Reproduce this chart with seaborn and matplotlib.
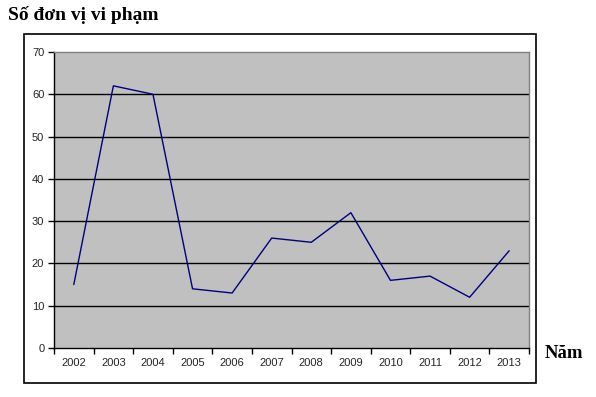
import matplotlib
matplotlib.use("Agg")
import matplotlib.pyplot as plt
import seaborn as sns
import pandas as pd
import numpy as np
from matplotlib.patches import Rectangle

years = ["2002", "2003", "2004", "2005", "2006", "2007", "2008", "2009", "2010", "2011", "2012", "2013"]
counts = [15, 62, 60, 14, 13, 26, 25, 32, 16, 17, 12, 23]
y_ticks = [0, 10, 20, 30, 40, 50, 60, 70]
title_text = "Số đơn vị vi phạm"
xlabel_text = "Năm"

df = pd.DataFrame({"year": years, "count": counts})

sns.set_style("white")
plt.rcParams["font.family"] = ["Liberation Sans", "DejaVu Sans"]

W, H = 596, 397
fig = plt.figure(figsize=(W / 100, H / 100), dpi=100)
ax = fig.add_axes([54 / W, 1 - 348 / H, (529 - 54) / W, (348 - 52) / H])
ax.set_facecolor("#c0c0c0")

sns.lineplot(data=df, x="year", y="count", ax=ax, color="#000080", linewidth=1.0, sort=False)

ax.set_xlim(-0.5, len(years) - 0.5)
ax.set_ylim(0, 70)
ax.set_yticks(y_ticks)
ax.set_yticklabels([str(v) for v in y_ticks], fontsize=8)
for v in y_ticks[1:-1]:
    ax.axhline(v, color="black", linewidth=1.0, zorder=1)

ax.set_xticks(np.arange(-0.5, len(years), 1.0))
ax.set_xticklabels([])
ax.set_xticks(np.arange(len(years)), minor=True)
ax.set_xticklabels(years, minor=True, fontsize=8)
ax.tick_params(axis="x", which="major", direction="out", length=4, width=1, color="black", bottom=True)
ax.tick_params(axis="x", which="minor", length=0, pad=7)
ax.tick_params(axis="y", direction="out", length=4, width=1, color="black", left=True, pad=3)
ax.set_xlabel("")
ax.set_ylabel("")

for side in ["left", "bottom"]:
    ax.spines[side].set_color("black")
    ax.spines[side].set_linewidth(1.0)
for side in ["top", "right"]:
    ax.spines[side].set_color("#808080")
    ax.spines[side].set_linewidth(1.0)

# outer chart border
fig.patches.append(Rectangle((24 / W, 1 - 383 / H), (536 - 24) / W, (383 - 34) / H,
                             transform=fig.transFigure, fill=False, edgecolor="black", linewidth=1.2))

fig.text(8 / W, 1 - 15 / H, title_text, fontsize=14, fontweight="bold", color="black",
         family=["Liberation Serif", "DejaVu Serif"], ha="left", va="center")
fig.text(545 / W, 1 - 354 / H, xlabel_text, fontsize=13.5, fontweight="bold", color="black",
         family=["Liberation Serif", "DejaVu Serif"], ha="left", va="center")

fig.savefig("out.png", dpi=100)
